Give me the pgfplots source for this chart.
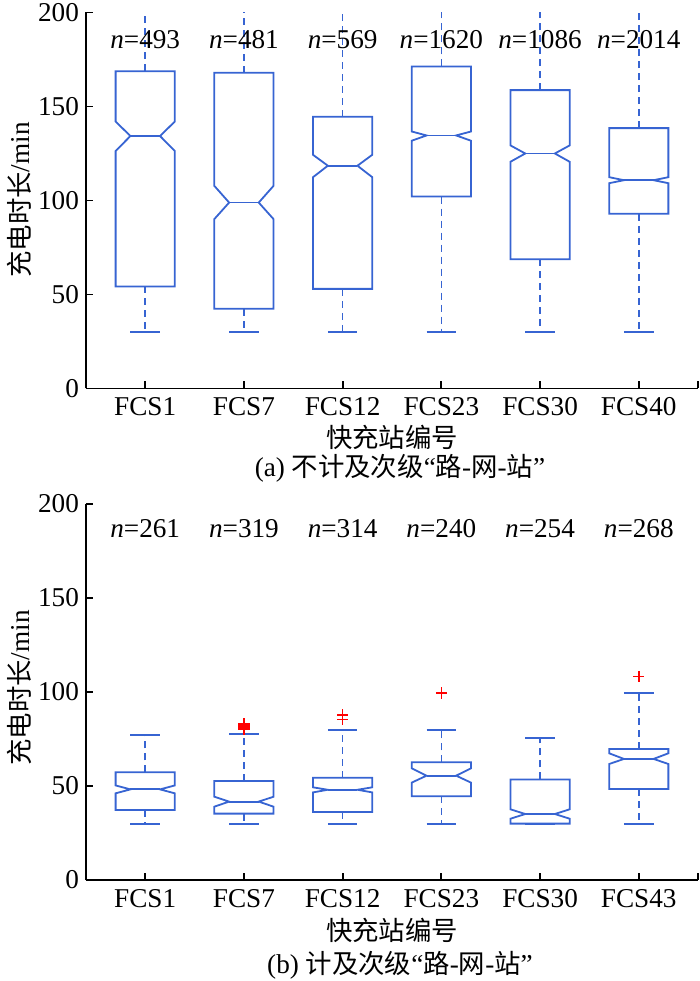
\documentclass[border=0pt]{standalone}
\usepackage{pgfplots}
\pgfplotsset{compat=1.18}
\usepackage{fontspec}
\setmainfont{Liberation Serif}
\newfontfamily\cjk{Noto Sans CJK SC}
\newcommand\fs{\fontsize{13.6}{16}\selectfont}
\newcommand\fsc{\fontsize{13.2}{16}\selectfont}
\definecolor{boxc}{RGB}{55,100,210}
\definecolor{outc}{RGB}{255,0,0}
% #1 x, #2 lower whisker, #3 q1, #4 notch low, #5 median, #6 notch high, #7 q3, #8 upper whisker
\newcommand{\nbox}[8]{%
  \pgfmathsetmacro\xl{#1-0.3}\pgfmathsetmacro\xr{#1+0.3}%
  \pgfmathsetmacro\xnl{#1-0.15}\pgfmathsetmacro\xnr{#1+0.15}%
  \edef\temp{%
  \noexpand\addplot[boxc, line width=0.9pt, line join=miter] coordinates {(\xl,#3) (\xr,#3) (\xr,#4) (\xnr,#5) (\xr,#6) (\xr,#7) (\xl,#7) (\xl,#6) (\xnl,#5) (\xl,#4)} --cycle;
  \noexpand\addplot[boxc, line width=0.9pt] coordinates {(\xnl,#5) (\xnr,#5)};
  \noexpand\addplot[boxc, line width=0.8pt, dash pattern=on 3.5pt off 2.5pt] coordinates {(#1,#7) (#1,#8)};
  \noexpand\addplot[boxc, line width=0.8pt, dash pattern=on 3.5pt off 2.5pt] coordinates {(#1,#3) (#1,#2)};
  \noexpand\addplot[boxc, line width=0.9pt] coordinates {(\xnl,#8) (\xnr,#8)};
  \noexpand\addplot[boxc, line width=0.9pt] coordinates {(\xnl,#2) (\xnr,#2)};
  }\temp}
\pgfplotsset{
  myax/.style={
    scale only axis, width=306pt, height=188pt,
    xmin=0.4, xmax=6.6, ymin=0, ymax=200,
    axis lines=left, axis line style={-, black, line width=0.9pt},
    tick align=inside, major tick length=3.5pt,
    tick style={black, line width=0.9pt},
    xtick={1,2,3,4,5,6}, ytick={0,50,100,150,200},
    extra x ticks={6.6}, extra x tick labels={},
    extra x tick style={major tick length=3.5pt},
    /pgf/number format/assume math mode=true,
    every tick label/.style={font=\fs, black},
    xticklabel style={yshift=-1pt},
    clip=true,
  }
}
\begin{document}
\begin{tikzpicture}
\path[use as bounding box] (0,0) rectangle (350pt,490.5pt);
% ---------- (a) ----------
\begin{axis}[myax, at={(43pt,296.25pt)}, anchor=south west,
  xticklabels={FCS1,FCS7,FCS12,FCS23,FCS30,FCS40}]
\nbox{1}{30}{54.3}{126.3}{134.3}{142.0}{168.8}{240}
\nbox{2}{30}{42.4}{90.1}{98.9}{107.8}{167.9}{240}
\nbox{3}{30}{53.0}{112.4}{118.5}{124.3}{144.5}{240}
\nbox{4}{30}{102.1}{131.8}{134.6}{136.7}{171.3}{240}
\nbox{5}{30}{68.8}{120.6}{125.0}{129.3}{158.7}{240}
\nbox{6}{30}{92.9}{109.2}{110.8}{112.4}{138.5}{240}
\node[font=\fs] at (axis cs:1,185.5) {\textit{n}=493};
\node[font=\fs] at (axis cs:2,185.5) {\textit{n}=481};
\node[font=\fs] at (axis cs:3,185.5) {\textit{n}=569};
\node[font=\fs] at (axis cs:4,185.5) {\textit{n}=1620};
\node[font=\fs] at (axis cs:5,185.5) {\textit{n}=1086};
\node[font=\fs] at (axis cs:6,185.5) {\textit{n}=2014};
\end{axis}
% ---------- (b) ----------
\begin{axis}[myax, at={(43pt,50.5pt)}, anchor=south west,
  xticklabels={FCS1,FCS7,FCS12,FCS23,FCS30,FCS43}]
\nbox{1}{30}{37.2}{46.1}{48.2}{50.3}{57.3}{77.3}
\nbox{2}{30}{35.3}{39.0}{41.7}{44.3}{52.7}{77.8}
\nbox{3}{30}{36.2}{46.6}{48.0}{49.3}{54.4}{79.8}
\nbox{4}{30}{44.5}{51.8}{55.5}{59.4}{62.6}{79.6}
\nbox{5}{30}{30.0}{32.6}{35.1}{37.6}{53.5}{75.7}
\nbox{6}{30}{48.4}{61.7}{64.4}{67.4}{69.7}{99.3}
\addplot[only marks, mark=+, mark size=2.8pt, outc, mark options={line width=0.8pt}] coordinates {
(2,80) (2,81) (2,82) (2,83)
(3,85.3) (3,87.8)
(4,99.5)
(6,108.2)
};
\node[font=\fs] at (axis cs:1,187) {\textit{n}=261};
\node[font=\fs] at (axis cs:2,187) {\textit{n}=319};
\node[font=\fs] at (axis cs:3,187) {\textit{n}=314};
\node[font=\fs] at (axis cs:4,187) {\textit{n}=240};
\node[font=\fs] at (axis cs:5,187) {\textit{n}=254};
\node[font=\fs] at (axis cs:6,187) {\textit{n}=268};
\end{axis}
% ---------- labels ----------
\node[font=\fs, rotate=90] at (9.5pt,390.5pt) {{\cjk\fsc 充电时长}/min};
\node[font=\fs, rotate=90] at (9.5pt,146.5pt) {{\cjk\fsc 充电时长}/min};
\node[font=\fs] at (196pt,272pt) {\cjk\fsc 快充站编号};
\node[font=\fs] at (200pt,256.5pt) {(a) {\cjk\fsc 不计及次级}“{\cjk\fsc 路}-{\cjk\fsc 网}-{\cjk\fsc 站}”};
\node[font=\fs] at (196pt,25.5pt) {\cjk\fsc 快充站编号};
\node[font=\fs] at (200pt,8pt) {(b) {\cjk\fsc 计及次级}“{\cjk\fsc 路}-{\cjk\fsc 网}-{\cjk\fsc 站}”};
\end{tikzpicture}
\end{document}
